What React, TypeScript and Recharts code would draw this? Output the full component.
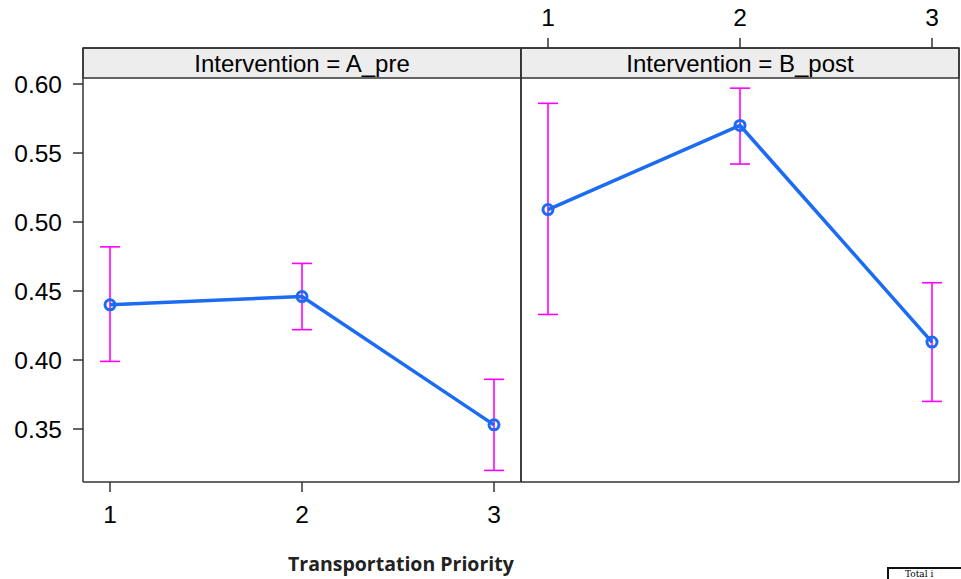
import React from "react";
import {
  LineChart,
  Line,
  XAxis,
  YAxis,
  ErrorBar,
  ReferenceArea,
} from "recharts";

// Transportation priority levels
const priorities = [1, 2, 3];

// Group means with lower / upper interval bounds
const preMean = [0.44, 0.446, 0.353];
const preLower = [0.399, 0.422, 0.32];
const preUpper = [0.482, 0.47, 0.386];

const postMean = [0.509, 0.57, 0.413];
const postLower = [0.433, 0.542, 0.37];
const postUpper = [0.586, 0.597, 0.456];

const yTicks = [0.35, 0.4, 0.45, 0.5, 0.55, 0.6];
const stripLabels = ["Intervention = A_pre", "Intervention = B_post"];

const W = 961;
const H = 579;
const X_DOMAIN: [number, number] = [0.859375, 3.140625];
const Y_DOMAIN: [number, number] = [0.3116, 0.6261];
const STRIP_BOTTOM = 0.6043;

const AXIS = "#333";
const LINE = "#1b6cf2";
const ERR = "#ff00ff";

type Row = { x: number; mean: number; err: [number, number] };

const toRows = (mean: number[], lo: number[], hi: number[]): Row[] =>
  priorities.map((p, i) => ({
    x: p,
    mean: mean[i],
    err: [mean[i] - lo[i], hi[i] - mean[i]],
  }));

type PanelProps = {
  rows: Row[];
  label: string;
  left: number;
  right: number;
  first: boolean;
};

const tickStyle = { fontSize: 24.5, fill: "#000" };

const Panel = ({ rows, label, left, right, first }: PanelProps) => (
  <div style={{ position: "absolute", left: 0, top: 0 }}>
    <LineChart
      width={W}
      height={H}
      data={rows}
      margin={{ top: 0, right: 0, bottom: 0, left: 0 }}
    >
      <XAxis
        xAxisId="bottom"
        dataKey="x"
        type="number"
        domain={X_DOMAIN}
        ticks={priorities}
        allowDataOverflow
        height={H - 482}
        tickSize={10}
        tickMargin={14}
        stroke={AXIS}
        strokeWidth={1.5}
        tick={first ? tickStyle : false}
      />
      <XAxis
        xAxisId="top"
        orientation="top"
        dataKey="x"
        type="number"
        domain={X_DOMAIN}
        ticks={priorities}
        allowDataOverflow
        height={48}
        tickSize={10}
        tickMargin={12}
        stroke={AXIS}
        strokeWidth={1.5}
        tick={first ? false : tickStyle}
      />
      <YAxis
        yAxisId="left"
        type="number"
        domain={Y_DOMAIN}
        ticks={yTicks}
        allowDataOverflow
        width={left}
        tickSize={10}
        tickMargin={11}
        stroke={AXIS}
        strokeWidth={1.5}
        tickLine={first}
        tick={first ? tickStyle : false}
        tickFormatter={(v: number) => v.toFixed(2)}
      />
      <YAxis
        yAxisId="right"
        orientation="right"
        type="number"
        domain={Y_DOMAIN}
        ticks={yTicks}
        allowDataOverflow
        width={right}
        tickSize={10}
        stroke={AXIS}
        strokeWidth={1.5}
        tickLine={!first}
        tick={false}
      />
      <ReferenceArea
        xAxisId="bottom"
        yAxisId="left"
        y1={STRIP_BOTTOM}
        y2={Y_DOMAIN[1]}
        fill="#ededed"
        fillOpacity={1}
        stroke={AXIS}
        strokeWidth={1.5}
        label={{ value: label, position: "center", fontSize: 24, fill: "#000" }}
      />
      <Line
        xAxisId="bottom"
        yAxisId="left"
        dataKey="mean"
        stroke={LINE}
        strokeWidth={3.5}
        dot={{ r: 5, stroke: LINE, strokeWidth: 3, fill: "none" }}
        isAnimationActive={false}
      >
        <ErrorBar
          dataKey="err"
          direction="y"
          width={10}
          stroke={ERR}
          strokeWidth={1.6}
          isAnimationActive={false}
        />
      </Line>
    </LineChart>
  </div>
);

export default function App() {
  const pre = toRows(preMean, preLower, preUpper);
  const post = toRows(postMean, postLower, postUpper);
  return (
    <div
      style={{
        position: "fixed",
        left: 0,
        top: 0,
        width: W,
        height: H,
        overflow: "hidden",
        background: "#fff",
        fontFamily: "'Liberation Sans', Arial, sans-serif",
      }}
    >
      <Panel rows={pre} label={stripLabels[0]} left={83} right={W - 521} first />
      <Panel rows={post} label={stripLabels[1]} left={521} right={2} first={false} />
      <div
        style={{
          position: "absolute",
          left: 288,
          top: 551,
          lineHeight: "26px",
          fontFamily: "'Open Sans', sans-serif",
          fontWeight: 700,
          fontSize: 19.5,
          color: "#222",
          whiteSpace: "nowrap",
        }}
      >
        Transportation Priority
      </div>
      <div
        style={{
          position: "absolute",
          left: 887,
          top: 567,
          width: 120,
          height: 40,
          border: "2px solid #111",
          fontFamily: "'DejaVu Serif', serif",
          fontSize: 9,
          lineHeight: "9px",
          padding: "1px 0 0 16px",
          whiteSpace: "nowrap",
        }}
      >
        Total i
      </div>
    </div>
  );
}
